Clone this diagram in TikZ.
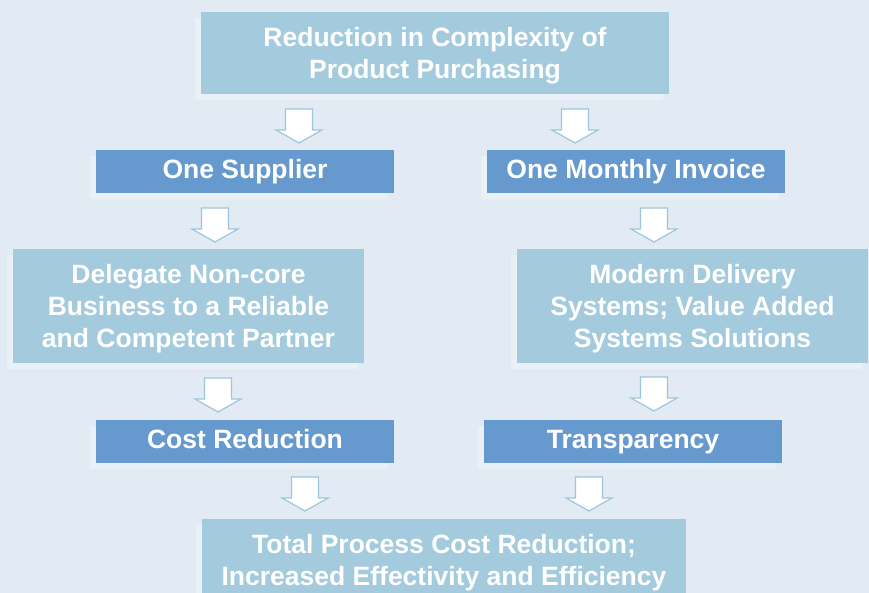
\documentclass[tikz,border=0pt]{standalone}
\usepackage{fontspec}
\setmainfont{Liberation Sans}
\usetikzlibrary{shadows}
\definecolor{bg}{HTML}{E2EAF4}
\definecolor{lightb}{HTML}{A3CADD}
\definecolor{darkb}{HTML}{6699CD}
\definecolor{shad}{HTML}{E9F1F7}
\definecolor{arrl}{HTML}{9DC6DC}
\begin{document}
\begin{tikzpicture}[x=1pt,y=-1pt,
  box/.style={inner sep=0pt, text=white, font=\fontsize{26.5}{32}\selectfont\bfseries, align=center,
    text depth=0pt,
    general shadow={fill=shad, shadow xshift=-6pt, shadow yshift=-6pt}},
  lbox/.style={box, fill=lightb},
  twoline/.style={text height=51pt},
  threeline/.style={text height=83pt},
  dbox/.style={box, fill=darkb, text height=19pt, text depth=5pt},
  blockarrow/.pic={\draw[fill=white, draw=arrl, line width=1.2pt, line join=miter]
     (-13.5,0) -- (13.5,0) -- (13.5,21) -- (23,21) -- (0,34) -- (-23,21) -- (-13.5,21) -- cycle;}
]
\fill[bg] (0,0) rectangle (869,593);
\useasboundingbox (0,0) rectangle (869,593);

\node[lbox, twoline, minimum width=468pt, minimum height=82pt] (top) at (435,53)
  {Reduction in Complexity of\\Product Purchasing};
\node[dbox, minimum width=298pt, minimum height=43pt] (sup) at (245,171.5) {One Supplier};
\node[dbox, minimum width=298pt, minimum height=43pt] (inv) at (636,171.5) {One Monthly Invoice};
\node[lbox, threeline, minimum width=351pt, minimum height=114pt] (del) at (188.5,306)
  {Delegate Non-core\\Business to a Reliable\\and Competent Partner};
\node[lbox, threeline, minimum width=351pt, minimum height=114pt] (mod) at (692.5,306)
  {Modern Delivery\\Systems; Value Added\\Systems Solutions};
\node[dbox, minimum width=298pt, minimum height=43pt] (cost) at (245,441.5) {Cost Reduction};
\node[dbox, minimum width=298pt, minimum height=43pt] (tra) at (633,441.5) {Transparency};
\node[lbox, twoline, minimum width=484pt, minimum height=82pt] (bot) at (444,560)
  {Total Process Cost Reduction;\\Increased Effectivity and Efficiency};

\pic at (299,109) {blockarrow};
\pic at (575,109) {blockarrow};
\pic at (215,208) {blockarrow};
\pic at (654,208) {blockarrow};
\pic at (218,378) {blockarrow};
\pic at (654,377) {blockarrow};
\pic at (305,477) {blockarrow};
\pic at (589,477) {blockarrow};
\end{tikzpicture}
\end{document}
